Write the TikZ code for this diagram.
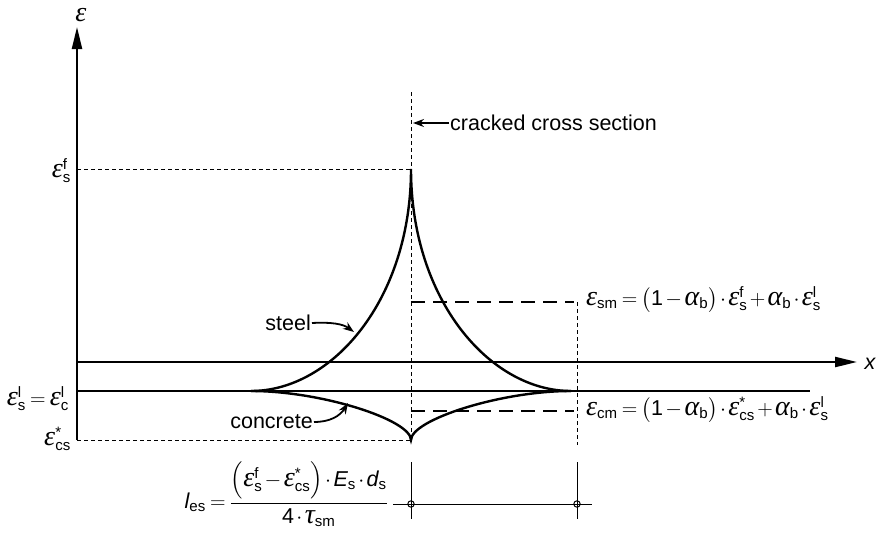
\RequirePackage{fix-cm}
\documentclass[tikz,border=0pt]{standalone}
\usepackage{amsmath}
\usepackage{fontspec}
\setmainfont{Liberation Sans}
\newfontfamily\grk{Liberation Serif}[Scale=1.3]
\usetikzlibrary{arrows.meta}
\newcommand\ee{\text{\grk\itshape ε}}
\newcommand\aal{\text{\grk\itshape α}}
\newcommand\ttau{\text{\grk\itshape τ}}
\newcommand\tx[1]{\text{#1}}
\newcommand\itx[1]{\text{\itshape #1}}
\newcommand\tightmath{\medmuskip=2mu\thickmuskip=3.5mu}
\tikzset{
  axis/.style={line width=2.4pt,-{Stealth[length=22pt,width=10pt,inset=0pt]}},
  curve/.style={line width=2.4pt},
  baseline line/.style={line width=2.4pt},
  fdash/.style={line width=1pt,dash pattern=on 4pt off 3pt},
  ldash/.style={line width=1.5pt,dash pattern=on 14pt off 8pt},
  dimline/.style={line width=1pt},
  lblarrow/.style={line width=1.8pt,-{Stealth[length=11pt,width=8pt]}},
  lbl/.style={inner sep=1pt},
}
\begin{document}
\begin{tikzpicture}[x=1pt,y=-1pt,font=\fontsize{21.5}{26}\selectfont\tightmath]
\useasboundingbox (0,0) rectangle (878,538);
% coordinates
\coordinate (O) at (77,440);
\coordinate (Ytop) at (77,27);
\coordinate (Xl) at (77,362);
\coordinate (Xr) at (857,362);
\coordinate (Ll) at (77,391);
\coordinate (Lr) at (810,391);
\coordinate (S0) at (251,391);
\coordinate (Pk) at (411,169);
\coordinate (S1) at (571,391);
\coordinate (Cu) at (411,440);
\coordinate (CrT) at (411,92);
\coordinate (Fy) at (77,169);
\coordinate (SMa) at (411,302);
\coordinate (SMb) at (574,302);
\coordinate (CMa) at (411,411);
\coordinate (CMb) at (574,411);
\coordinate (Va) at (577,302);
\coordinate (Vb) at (577,445);
\coordinate (D1t) at (411,462);
\coordinate (D1b) at (411,519);
\coordinate (D2t) at (577,462);
\coordinate (D2b) at (577,519);
\coordinate (Dl) at (393,504);
\coordinate (Dr) at (592,504);
\coordinate (D1) at (411,504);
\coordinate (D2) at (577,504);
\coordinate (StTip) at (354,332);
\coordinate (CoTip) at (348,403);
\coordinate (CrTip) at (413,123);

% dashed helper lines
\draw[fdash] (Fy) -- (Pk);
\draw[fdash] (O) -- (Cu);
\draw[fdash] (CrT) -- (Cu);
\draw[ldash] (SMa) -- (SMb);
\draw[ldash] (CMa) -- (CMb);
\draw[fdash] (Va) -- (Vb);

% axes
\draw[axis] (O) -- (Ytop);
\draw[axis] (Xl) -- (Xr);
\draw[baseline line] (Ll) -- (Lr);

% steel and concrete curves
\draw[curve] (S0) .. controls (332,391) and (411,300) .. (Pk)
             .. controls (411,300) and (490,391) .. (S1);
\draw[curve] (S0) .. controls (322,391) and (411,420) .. (Cu)
             .. controls (411,420) and (500,391) .. (S1);

% dimension
\draw[dimline] (D1t) -- (D1b);
\draw[dimline] (D2t) -- (D2b);
\draw[dimline] (Dl) -- (Dr);
\draw[dimline] (D1) circle[radius=3.2];
\draw[dimline] (D2) circle[radius=3.2];

% labels
\node[lbl,anchor=base] (eps) at (81,21) {$\ee$};
\node[lbl,anchor=base east] (esf) at (72,177) {$\ee^{\tx{f}}_{\tx{s}}$};
\node[lbl,anchor=base east] (esl) at (70,405) {$\ee^{\tx{l}}_{\tx{s}}=\ee^{\tx{l}}_{\tx{c}}$};
\node[lbl,anchor=base east] (ecs) at (72,445) {$\ee^{\tx{*}}_{\tx{cs}}$};
\node[lbl,anchor=base] (xl) at (870,369) {\itshape x};
\node[lbl,anchor=west] (crack) at (449,123) {cracked cross section};
\draw[lblarrow] (crack.west) -- (CrTip);
\node[lbl,anchor=east] (steel) at (312,323) {steel};
\draw[lblarrow] (steel.east) .. controls (332,322) and (343,324) .. (StTip);
\node[lbl,anchor=east] (concrete) at (314,422) {concrete};
\draw[lblarrow] (concrete.east) .. controls (330,422) and (340,416) .. (CoTip);
\node[lbl,anchor=base west] (esm) at (585,305)
  {$\ee_{\tx{sm}}=\bigl(\tx{1}-\aal_{\tx{b}}\bigr)\cdot\ee^{\tx{f}}_{\tx{s}}+\aal_{\tx{b}}\cdot\ee^{\tx{l}}_{\tx{s}}$};
\node[lbl,anchor=base west] (ecm) at (585,415)
  {$\ee_{\tx{cm}}=\bigl(\tx{1}-\aal_{\tx{b}}\bigr)\cdot\ee^{\tx{*}}_{\tx{cs}}+\aal_{\tx{b}}\cdot\ee^{\tx{l}}_{\tx{s}}$};
\node[lbl,anchor=east] (les) at (389,494)
  {$\itx{l}_{\tx{es}}=\dfrac{\Bigl(\ee^{\tx{f}}_{\tx{s}}-\ee^{\tx{*}}_{\tx{cs}}\Bigr)\cdot\itx{E}_{\tx{s}}\cdot\itx{d}_{\tx{s}}}{\tx{4}\cdot\ttau_{\tx{sm}}}$};
\end{tikzpicture}
\end{document}
